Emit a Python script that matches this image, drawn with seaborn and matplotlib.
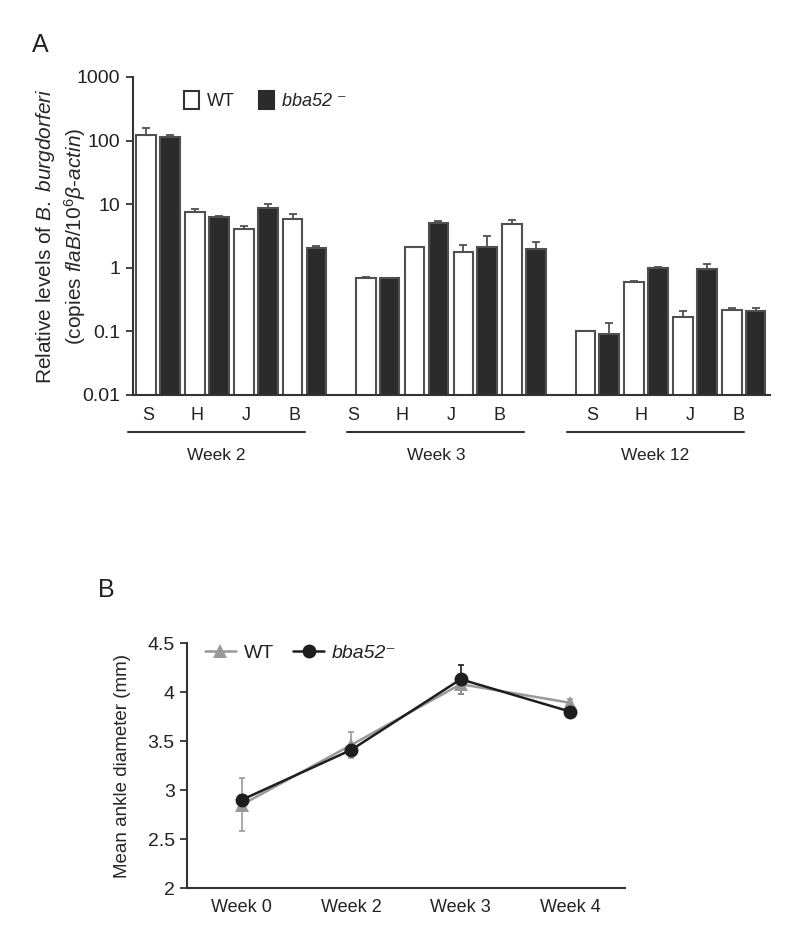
import numpy as np
import pandas as pd
import matplotlib
matplotlib.use("Agg")
import matplotlib.pyplot as plt
import matplotlib.transforms as mtransforms
from matplotlib.patches import Patch
from matplotlib.lines import Line2D
from matplotlib.ticker import NullLocator
import seaborn as sns

# ================
# Data
# ================
tissues = ["S", "H", "J", "B"]
weeks_a = ["Week 2", "Week 3", "Week 12"]
wt_levels = [124, 7.6, 4.0, 5.9, 0.70, 2.1, 1.8, 4.8, 0.10, 0.60, 0.17, 0.22]
wt_err = [36, 0.9, 0.6, 1.2, 0.01, 0.05, 0.5, 0.9, 0.003, 0.03, 0.04, 0.01]
mut_levels = [115, 6.3, 8.8, 2.05, 0.68, 5.1, 2.1, 2.0, 0.09, 1.0, 0.95, 0.21]
mut_err = [6, 0.2, 1.1, 0.15, 0.01, 0.25, 1.1, 0.5, 0.045, 0.03, 0.2, 0.025]
yticks_a = [0.01, 0.1, 1, 10, 100, 1000]
ytick_labels_a = ["0.01", "0.1", "1", "10", "100", "1000"]

weeks_b = ["Week 0", "Week 2", "Week 3", "Week 4"]
wt_ankle = [2.85, 3.46, 4.08, 3.89]
wt_ankle_err = [0.27, 0.13, 0.10, 0.04]
mut_ankle = [2.90, 3.41, 4.13, 3.80]
mut_ankle_err = [0.05, 0.04, 0.15, 0.06]
yticks_b = [2, 2.5, 3, 3.5, 4, 4.5]
ytick_labels_b = ["2", "2.5", "3", "3.5", "4", "4.5"]

# ================
# Style
# ================
sns.set_style("ticks")
plt.rcParams["font.family"] = ["Liberation Sans", "DejaVu Sans"]
plt.rcParams["mathtext.fontset"] = "custom"
plt.rcParams["mathtext.rm"] = "Liberation Sans"
plt.rcParams["mathtext.it"] = "Liberation Sans:italic"
plt.rcParams["text.color"] = "#222222"
plt.rcParams["xtick.color"] = "#333333"
plt.rcParams["ytick.color"] = "#333333"
plt.rcParams["xtick.labelcolor"] = "#222222"
plt.rcParams["ytick.labelcolor"] = "#222222"

AXC = "#333333"
EDGE = "#505050"
DARK = "#2b2b2b"

fig = plt.figure(figsize=(8, 9.42), dpi=100)

# ================
# Panel A
# ================
ax1 = fig.add_axes([0.166, 0.5807, 0.7965, 0.3376])

group_step = 4.5
pos = [g * group_step + i for g in range(len(weeks_a)) for i in range(len(tissues))]
df_a = pd.DataFrame({
    "pos": pos * 2,
    "level": wt_levels + mut_levels,
    "strain": ["WT"] * len(pos) + ["bba52"] * len(pos),
})
sns.barplot(data=df_a, x="pos", y="level", hue="strain", hue_order=["WT", "bba52"],
            native_scale=True, palette={"WT": "white", "bba52": DARK},
            edgecolor=EDGE, linewidth=1.5, width=0.98, gap=0.18,
            errorbar=None, legend=False, ax=ax1)
ax1.set_yscale("log")

pos_arr = np.array(pos, dtype=float)
off = 0.245
ax1.errorbar(pos_arr - off, wt_levels, yerr=[np.zeros(len(pos)), wt_err], fmt="none",
             ecolor=EDGE, elinewidth=1.3, capsize=3, capthick=1.3, zorder=1)
ax1.errorbar(pos_arr + off, mut_levels, yerr=[np.zeros(len(pos)), mut_err], fmt="none",
             ecolor=EDGE, elinewidth=1.3, capsize=3, capthick=1.3, zorder=1)

ax1.set_ylim(0.01, 1000)
ax1.set_xlim(-0.52, (len(weeks_a) - 1) * group_step + 3.54)
ax1.set_yticks(yticks_a)
ax1.set_yticklabels(ytick_labels_a, fontsize=14)
ax1.yaxis.set_minor_locator(NullLocator())

label_shift = [-0.2, -0.5, -0.1]
xt = [g * group_step + i + label_shift[g] for g in range(len(weeks_a)) for i in range(len(tissues))]
ax1.set_xticks(xt)
ax1.set_xticklabels(tissues * len(weeks_a), fontsize=13)
ax1.tick_params(axis="x", length=0, pad=9)
ax1.tick_params(axis="y", length=5, width=1.3, pad=4)
ax1.set_xlabel("")
ax1.set_ylabel("Relative levels of $\\mathit{B.}$ $\\mathit{burgdorferi}$\n"
               "(copies $\\mathit{flaB}$/10$^{6}$$\\mathit{\\beta}$-$\\mathit{actin}$)",
               fontsize=15, linespacing=1.25, labelpad=-8)
for s in ["top", "right"]:
    ax1.spines[s].set_visible(False)
for s in ["left", "bottom"]:
    ax1.spines[s].set_color(AXC)
    ax1.spines[s].set_linewidth(1.5)

# group brackets below the axis
trans = mtransforms.blended_transform_factory(ax1.transData, ax1.transAxes)
for g, wk in enumerate(weeks_a):
    x0 = g * group_step - 0.62
    x1 = g * group_step + 3.0
    ax1.plot([x0, x1], [-0.116, -0.116], transform=trans, clip_on=False,
             color=AXC, lw=1.5)
    ax1.text((x0 + x1) / 2, -0.19, wk, transform=trans, ha="center", va="center",
             fontsize=12.5)

handles_a = [Patch(facecolor="white", edgecolor=AXC, linewidth=1.5),
             Patch(facecolor=DARK, edgecolor=DARK, linewidth=1.5)]
leg_a = ax1.legend(handles_a, ["WT", "bba52 \u207b"], loc="center left",
                   bbox_to_anchor=(0.08, 0.925), ncol=2, frameon=False, fontsize=13,
                   handlelength=0.85, handleheight=1.1, handletextpad=0.45,
                   columnspacing=1.3, borderaxespad=0, borderpad=0)
leg_a.get_texts()[1].set_style("italic")

fig.text(0.05, 0.952, "A", fontsize=18, ha="center", va="center")

# ================
# Panel B
# ================
ax2 = fig.add_axes([0.234, 0.0573, 0.547, 0.2601])

df_b = pd.DataFrame({
    "week": list(range(len(weeks_b))) * 2,
    "diam": wt_ankle + mut_ankle,
    "strain": ["WT"] * len(weeks_b) + ["bba52"] * len(weeks_b),
})
wt_col = "#999999"
mut_col = "#1e1e1e"
ax2.errorbar(range(len(weeks_b)), mut_ankle, yerr=mut_ankle_err, fmt="none",
             ecolor=mut_col, elinewidth=1.2, capsize=2.5, capthick=1.2, zorder=1)
ax2.errorbar(range(len(weeks_b)), wt_ankle, yerr=wt_ankle_err, fmt="none",
             ecolor=wt_col, elinewidth=1.2, capsize=2.5, capthick=1.2, zorder=1.5)
sns.lineplot(data=df_b, x="week", y="diam", hue="strain", style="strain",
             hue_order=["WT", "bba52"], style_order=["WT", "bba52"],
             markers={"WT": "^", "bba52": "o"}, dashes=False,
             palette={"WT": wt_col, "bba52": mut_col}, markersize=10,
             markeredgewidth=0, linewidth=1.8, legend=False, ax=ax2)

ax2.set_xlim(-0.5, len(weeks_b) - 0.5)
ax2.set_ylim(2, 4.5)
ax2.set_xticks(range(len(weeks_b)))
ax2.set_xticklabels(weeks_b, fontsize=13)
ax2.set_yticks(yticks_b)
ax2.set_yticklabels(ytick_labels_b, fontsize=14)
ax2.tick_params(axis="x", length=0, pad=8)
ax2.tick_params(axis="y", length=5, width=1.3, pad=4)
ax2.set_xlabel("")
ax2.set_ylabel("Mean ankle diameter (mm)", fontsize=13.5, labelpad=12)
for s in ["top", "right"]:
    ax2.spines[s].set_visible(False)
for s in ["left", "bottom"]:
    ax2.spines[s].set_color(AXC)
    ax2.spines[s].set_linewidth(1.5)

handles_b = [Line2D([], [], color=wt_col, marker="^", markersize=10, lw=1.8, mew=0),
             Line2D([], [], color=mut_col, marker="o", markersize=10, lw=1.8, mew=0)]
leg_b = ax2.legend(handles_b, ["WT", "bba52\u207b"], loc="center left",
                   bbox_to_anchor=(0.04, 0.96), ncol=2, frameon=False, fontsize=14,
                   handlelength=1.6, handletextpad=0.4, columnspacing=1.0,
                   borderaxespad=0, borderpad=0)
leg_b.get_texts()[1].set_style("italic")

fig.text(0.133, 0.374, "B", fontsize=18, ha="center", va="center")

fig.savefig("out.png", dpi=100)
